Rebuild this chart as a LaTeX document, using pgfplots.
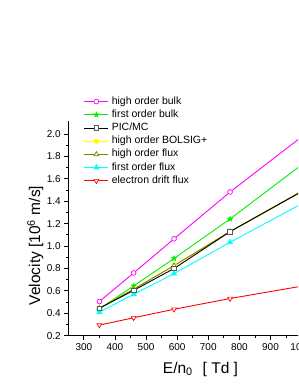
\documentclass[border=0pt]{standalone}
\usepackage{pgfplots}
\pgfplotsset{compat=1.18}
\usepackage{fontspec}
\setmainfont{Liberation Sans}
\definecolor{cmag}{RGB}{255,0,255}
\definecolor{cgrn}{RGB}{0,240,0}
\definecolor{cyel}{RGB}{255,255,0}
\definecolor{coli}{RGB}{128,128,0}
\definecolor{ccya}{RGB}{0,255,255}
\definecolor{cred}{RGB}{255,0,0}
\pgfdeclareplotmark{fstar}{%
  \pgfpathmoveto{\pgfpointpolar{90}{1.3\pgfplotmarksize}}%
  \pgfpathlineto{\pgfpointpolar{126}{0.55\pgfplotmarksize}}%
  \pgfpathlineto{\pgfpointpolar{162}{1.3\pgfplotmarksize}}%
  \pgfpathlineto{\pgfpointpolar{198}{0.55\pgfplotmarksize}}%
  \pgfpathlineto{\pgfpointpolar{234}{1.3\pgfplotmarksize}}%
  \pgfpathlineto{\pgfpointpolar{270}{0.55\pgfplotmarksize}}%
  \pgfpathlineto{\pgfpointpolar{306}{1.3\pgfplotmarksize}}%
  \pgfpathlineto{\pgfpointpolar{342}{0.55\pgfplotmarksize}}%
  \pgfpathlineto{\pgfpointpolar{18}{1.3\pgfplotmarksize}}%
  \pgfpathlineto{\pgfpointpolar{54}{0.55\pgfplotmarksize}}%
  \pgfpathclose\pgfusepathqfillstroke}
\pgfplotsset{
  sA/.style={cmag, line width=0.9pt, mark=*, mark size=2.4pt, mark options={solid, draw=cmag, fill=white, line width=0.7pt}},
  sB/.style={cgrn, line width=0.9pt, mark=fstar, mark size=2.3pt, mark options={solid, fill=cgrn, line width=0.3pt}},
  sC/.style={black, line width=0.9pt, mark=square*, mark size=2.3pt, mark options={solid, draw=black!65, fill=white, line width=0.7pt}},
  sD/.style={cyel, line width=0.9pt, mark=*, mark size=2.2pt, mark options={solid, fill=cyel}},
  sE/.style={coli, line width=0.9pt, mark=triangle*, mark size=2.8pt, mark options={solid, draw=coli, fill=white, line width=0.7pt}},
  sF/.style={ccya, line width=0.9pt, mark=triangle*, mark size=2.8pt, mark options={solid, fill=ccya}},
  sG/.style={cred, line width=0.9pt, mark=triangle*, mark size=2.8pt, mark options={solid, rotate=180, draw=cred, fill=white, line width=0.7pt}},
}
\begin{document}
\begin{tikzpicture}
\path[use as bounding box] (-68.3pt,-49.3pt) rectangle (229.7pt,335.7pt);
\clip (-68.3pt,-49.3pt) rectangle (229.7pt,335.7pt);
\begin{axis}[
  at={(0pt,0pt)}, anchor=south west,
  scale only axis, width=264.4pt, height=214.5pt,
  xmin=250, xmax=1100, ymin=0.2, ymax=2.115,
  axis x line*=bottom, axis y line*=left,
  axis line style={-, line width=0.8pt},
  tick align=outside,
  xtick={300,400,500,600,700,800,900,1000},
  ytick={0.2,0.4,0.6,0.8,1.0,1.2,1.4,1.6,1.8,2.0},
  minor x tick num=1, minor y tick num=1,
  major tick length=4pt, minor tick length=2pt,
  every tick/.style={black, line width=0.8pt},
  /pgf/number format/assume math mode=true,
  tick label style={font=\fontsize{10}{12}\selectfont},
  yticklabel style={/pgf/number format/.cd, fixed, fixed zerofill, precision=1},
  xticklabel style={/pgf/number format/1000 sep={}},
  xlabel={E/n\textsubscript{0}\hspace{10pt}[ Td ]},
  xlabel style={at={(axis description cs:0.5,-0.175)}, anchor=base, font=\fontsize{15.5}{18}\selectfont},
  ylabel={Velocity [10\textsuperscript{6} m/s]},
  ylabel style={at={(axis description cs:-0.107,0.42)}, anchor=base, font=\fontsize{15.5}{18}\selectfont},
  legend style={draw=none, fill=none, at={(axis description cs:0.047,1.125)}, anchor=north west,
    font=\fontsize{10.5}{12}\selectfont, row sep=3.2pt, column sep=3pt,
    nodes={inner sep=0pt, text height=7.6pt, text depth=2.4pt}},
  legend cell align=left,
  legend image code/.code={\draw[mark repeat=2,mark phase=2] plot coordinates {(0pt,0pt) (12pt,0pt) (24pt,0pt)};},
]
\addplot[sA, forget plot] coordinates {(350,0.505) (460,0.76) (590,1.065) (770,1.483) (1100,2.189)};
\addplot[sB, forget plot] coordinates {(350,0.44) (460,0.644) (590,0.89) (770,1.242) (1100,1.935)};
\addplot[sD, forget plot] coordinates {(350,0.445) (460,0.615) (590,0.83) (770,1.13) (1100,1.645)};
\addplot[sE, forget plot] coordinates {(350,0.445) (460,0.615) (590,0.825) (770,1.13) (1100,1.645)};
\addplot[sF, forget plot] coordinates {(350,0.41) (460,0.57) (590,0.754) (770,1.034) (1100,1.526)};
\addplot[sG, forget plot] coordinates {(350,0.295) (460,0.36) (590,0.436) (770,0.532) (1100,0.69)};
\addplot[sC, forget plot] coordinates {(350,0.445) (460,0.605) (590,0.80) (770,1.129) (1100,1.641)};
\addlegendimage{sA}\addlegendentry{high order bulk}
\addlegendimage{sB}\addlegendentry{first order bulk}
\addlegendimage{sC}\addlegendentry{PIC/MC}
\addlegendimage{sD}\addlegendentry{high order BOLSIG+}
\addlegendimage{sE}\addlegendentry{high order flux}
\addlegendimage{sF}\addlegendentry{first order flux}
\addlegendimage{sG}\addlegendentry{electron drift flux}
\end{axis}
\end{tikzpicture}
\end{document}
